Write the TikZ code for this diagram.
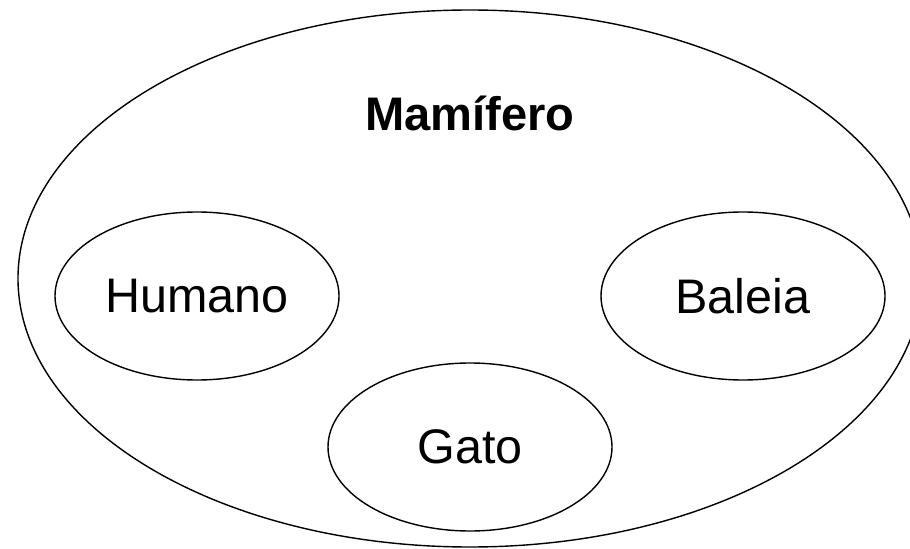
\documentclass[tikz,border=0pt]{standalone}
\usepackage{fontspec}
\setmainfont{Liberation Sans}
\usetikzlibrary{shapes.geometric}

\begin{document}
\begin{tikzpicture}[
        conj/.style={ellipse,draw,thin,inner sep=0pt,
                     minimum width=2.84cm,minimum height=1.68cm,font=\fontsize{13.8}{16}\selectfont}]
      \useasboundingbox (0,0) rectangle (9.1,-5.49);
      \node[ellipse,draw,thin,minimum width=9.04cm,minimum height=5.37cm](mamifero) at(4.70,-2.785){};
      \node[font=\bfseries\fontsize{13.4}{16}\selectfont](titulo) at(4.70,-1.13){Mamífero};
      \node[conj](humano) at(1.97,-2.96){Humano};
      \node[conj](baleia) at(7.43,-2.96){Baleia};
      \node[conj](gato)   at(4.70,-4.47){Gato};
    \end{tikzpicture}
\end{document}
